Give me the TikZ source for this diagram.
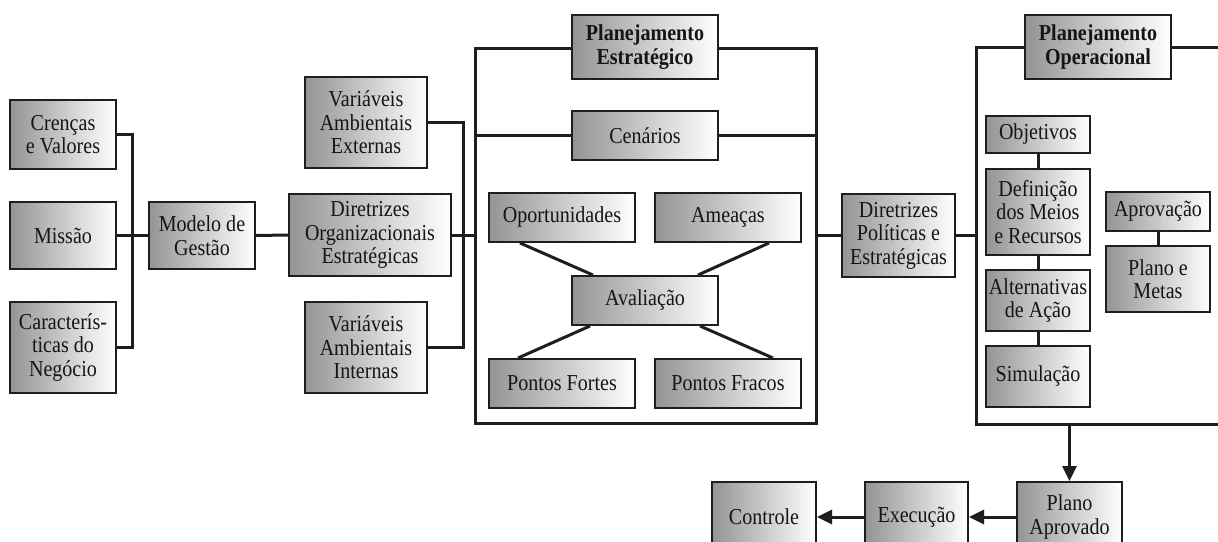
\documentclass[tikz,border=0pt]{standalone}
\usepackage{fontspec}
\setmainfont{Liberation Serif}[FakeStretch=0.88]
\usetikzlibrary{arrows.meta,calc}
\definecolor{ink}{HTML}{1E1E1E}
\definecolor{txt}{HTML}{151515}
\tikzset{
  box/.style={draw=ink, line width=2pt, left color=black!42, right color=white,
    inner sep=0pt, align=center, text=txt,
    font=\fontsize{22.8}{23.5}\selectfont},
  hbox/.style={box, font=\fontsize{22.8}{23.5}\selectfont\bfseries},
  frame/.style={draw=ink, line width=3pt, inner sep=0pt, fill=none},
  conn/.style={draw=ink, line width=3pt},
  arr/.style={conn, -{Triangle[length=15pt,width=14pt]}}
}
\begin{document}
\begin{tikzpicture}[x=1pt,y=-1pt]
\useasboundingbox (0,0) rectangle (1218,541);
\clip (0,0) rectangle (1218,541);
\fill[white] (0,0) rectangle (1218,541);

% frames
\node[frame, minimum width=341, minimum height=375] (f1) at (645.5,235.5) {};
\node[frame, minimum width=290, minimum height=377] (f2) at (1121,235.5) {};

% left column
\node[box, minimum width=106, minimum height=69] (cren) at (63,134.5) {Crenças\\e Valores};
\node[box, minimum width=106, minimum height=67] (missao) at (63,235.5) {Missão};
\node[box, minimum width=106, minimum height=91] (carac) at (63,347.5) {Caracterís-\\ticas do\\Negócio};
\node[box, minimum width=106, minimum height=67] (modelo) at (202,235.5) {Modelo de\\Gestão};

\node[box, minimum width=122, minimum height=91] (vae) at (366,122.5) {Variáveis\\Ambientais\\Externas};
\node[box, minimum width=162, minimum height=82] (dirorg) at (370,235) {Diretrizes\\Organizacionais\\Estratégicas};
\node[box, minimum width=122, minimum height=91] (vai) at (366,347.5) {Variáveis\\Ambientais\\Internas};

% connectors left
\coordinate (j1) at (132,235.5);
\coordinate (j2) at (463,235);
\draw[conn] (cren.east) -| (j1) |- (carac.east);
\draw[conn] (missao.east) -- (modelo.west);
\draw[conn] (modelo.east) -- (dirorg.west);
\draw[conn] (vae.east) -| (j2) |- (vai.east);
\draw[conn] (dirorg.east) -- (dirorg.east -| f1.west);

% planejamento estrategico
\draw[conn] (f1.west |- 0,135.5) -- (f1.east |- 0,135.5);
\node[hbox, minimum width=146, minimum height=64] (pe) at (645,47) {Planejamento\\Estratégico};
\node[box, minimum width=146, minimum height=49] (cen) at (645,135.5) {Cenários};
\node[box, minimum width=146, minimum height=49] (oport) at (562,217.5) {Oportunidades};
\node[box, minimum width=146, minimum height=49] (ameac) at (728,217.5) {Ameaças};
\node[box, minimum width=146, minimum height=49] (aval) at (645,300.5) {Avaliação};
\node[box, minimum width=146, minimum height=49] (pfortes) at (562,383.5) {Pontos Fortes};
\node[box, minimum width=146, minimum height=49] (pfracos) at (728,383.5) {Pontos Fracos};

\draw[conn] ([xshift=-42pt]oport.south) -- ([xshift=-52pt]aval.north);
\draw[conn] ([xshift=41pt]ameac.south) -- ([xshift=53pt]aval.north);
\draw[conn] ([xshift=-55pt]aval.south) -- ([xshift=-44pt]pfortes.north);
\draw[conn] ([xshift=55pt]aval.south) -- ([xshift=45pt]pfracos.north);

% diretrizes politicas
\node[box, minimum width=113, minimum height=83] (dirpol) at (898.5,235.5) {Diretrizes\\Políticas e\\Estratégicas};
\draw[conn] (f1.east |- dirpol) -- (dirpol.west);
\draw[conn] (dirpol.east) -- (dirpol -| f2.west);

% planejamento operacional
\node[hbox, minimum width=146, minimum height=64] (po) at (1098,47) {Planejamento\\Operacional};
\node[box, minimum width=104, minimum height=37] (obj) at (1038,134.5) {Objetivos};
\node[box, minimum width=104, minimum height=86] (def) at (1038,212) {Definição\\dos Meios\\e Recursos};
\node[box, minimum width=104, minimum height=61] (alt) at (1038,300.5) {Alternativas\\de Ação};
\node[box, minimum width=104, minimum height=61] (sim) at (1038,376.5) {Simulação};
\node[box, minimum width=104, minimum height=39] (aprov) at (1158,211.5) {Aprovação};
\node[box, minimum width=104, minimum height=66] (plano) at (1158,279) {Plano e\\Metas};
\draw[conn] (obj.south) -- (def.north);
\draw[conn] (def.south) -- (alt.north);
\draw[conn] (alt.south) -- (sim.north);
\draw[conn] (aprov.south) -- (plano.north);

% bottom row
\node[box, minimum width=105, minimum height=70] (planoap) at (1069.5,517) {Plano\\Aprovado};
\node[box, minimum width=103, minimum height=70] (exec) at (916.5,517) {Execução};
\node[box, minimum width=104, minimum height=70] (contr) at (764,517) {Controle};
\draw[arr] (f2.south -| planoap) -- (planoap.north);
\draw[arr] (planoap.west) -- (exec.east);
\draw[arr] (exec.west) -- (contr.east);
\end{tikzpicture}
\end{document}
